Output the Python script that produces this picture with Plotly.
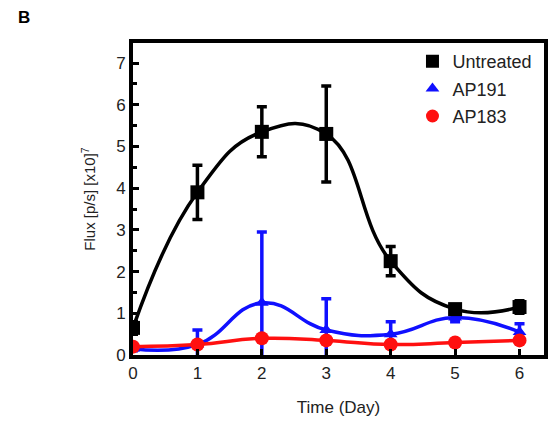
import plotly.graph_objects as go

days = [0, 1, 2, 3, 4, 5, 6]
untreated = [0.65, 3.9, 5.35, 5.3, 2.25, 1.1, 1.15]
untreated_err = [0.15, 0.65, 0.6, 1.15, 0.35, 0.1, 0.15]
ap191 = [0.15, 0.25, 1.25, 0.6, 0.5, 0.9, 0.55]
ap191_err = [0.05, 0.35, 1.7, 0.75, 0.3, 0.1, 0.2]
ap183 = [0.2, 0.25, 0.4, 0.35, 0.25, 0.3, 0.35]
ap183_err = [0.05, 0.05, 0.05, 0.05, 0.05, 0.05, 0.05]

BLUE = "#1010ff"
RED = "#ff1010"
FONT = "Liberation Sans, Arial, sans-serif"

fig = go.Figure()

def add_series(name, y, err, color, symbol, size):
    fig.add_trace(go.Scatter(
        x=days, y=y, mode="lines", line=dict(color=color, width=3.5, shape="spline", smoothing=1.3),
        showlegend=False, hoverinfo="skip"))
    fig.add_trace(go.Scatter(
        x=days, y=y, mode="markers", name=name,
        marker=dict(color=color, symbol=symbol, size=size),
        error_y=dict(type="data", array=err, color=color, thickness=3.5, width=5),
        showlegend=False))

add_series("AP191", ap191, ap191_err, BLUE, "triangle-up", 12)
add_series("AP183", ap183, ap183_err, RED, "circle", 14)
add_series("Untreated", untreated, untreated_err, "black", "square", 14)

for name, color, symbol, size, rank in [("Untreated", "black", "square", 13, 1),
                                        ("AP191", BLUE, "triangle-up", 12, 2),
                                        ("AP183", RED, "circle", 13, 3)]:
    fig.add_trace(go.Scatter(x=[None], y=[None], mode="markers", name=name,
                             marker=dict(color=color, symbol=symbol, size=size),
                             legendrank=rank, legendgroup=name))

fig.update_layout(
    width=554, height=422,
    margin=dict(l=133, r=6, t=43, b=67),
    paper_bgcolor="white", plot_bgcolor="white",
    font=dict(family=FONT, size=16, color="#222"),
    showlegend=True,
    legend=dict(x=0.68, y=1.0, xanchor="left", yanchor="top",
                bgcolor="rgba(0,0,0,0)", font=dict(size=18), tracegroupgap=1,
                itemwidth=30),
    xaxis=dict(range=[0, 6.38], tickvals=days, ticks="inside", ticklen=6, tickwidth=3,
               tickcolor="black", showline=True, linewidth=4, linecolor="black",
               mirror=True, showgrid=False, zeroline=False,
               tickfont=dict(size=17),
               title=dict(text="Time (Day)", font=dict(size=17), standoff=20)),
    yaxis=dict(range=[0, 7.48], tickvals=[0, 1, 2, 3, 4, 5, 6, 7], ticks="inside", ticklen=6,
               tickwidth=3, tickcolor="black", showline=True, linewidth=4, linecolor="black",
               mirror=True, showgrid=False, zeroline=False,
               minor=dict(dtick=0.5, ticks="inside", ticklen=4, tickwidth=3, tickcolor="black"),
               tickfont=dict(size=17),
               title=dict(text="Flux [p/s] [x10]<sup>7</sup>", font=dict(size=15), standoff=18)),
    annotations=[dict(text="<b>B</b>", x=-0.285, y=1.12, xref="paper", yref="paper",
                      xanchor="left", yanchor="top", showarrow=False,
                      font=dict(family="Liberation Sans, Arial, sans-serif", size=17, color="black"))],
)

fig.write_html("out.html")
